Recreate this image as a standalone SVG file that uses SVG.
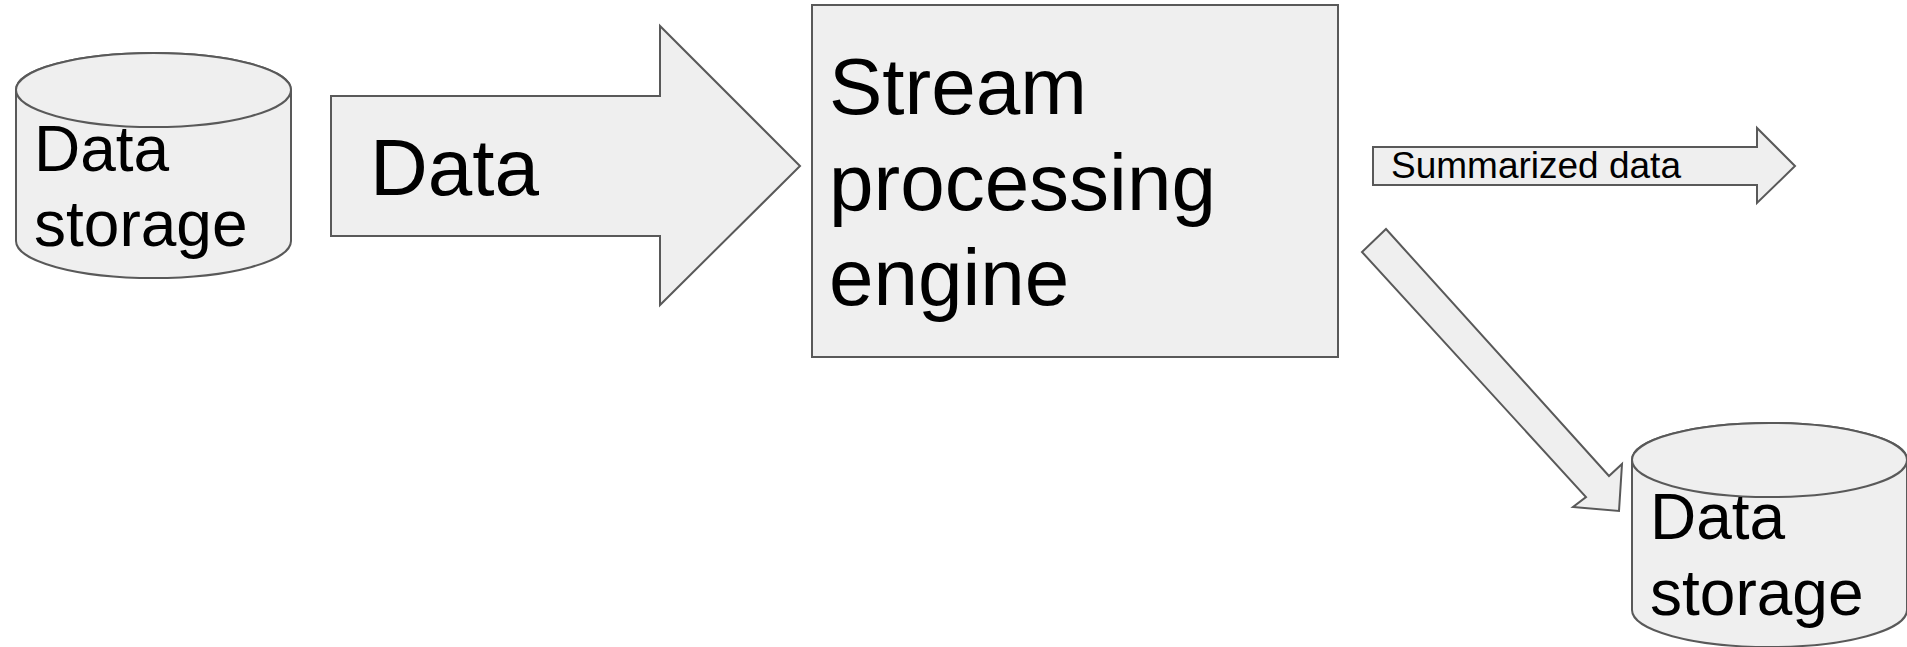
<svg xmlns="http://www.w3.org/2000/svg" width="1907" height="647" viewBox="0 0 1907 647">
<style>
.shape{fill:#efefef;stroke:#595959;stroke-width:2;stroke-linejoin:miter}
.t{font-family:"Liberation Sans",Arial,sans-serif;fill:#000}
</style>
<rect width="1907" height="647" fill="#ffffff"/>
<g id="storage1">
<path class="shape" d="M16,90 L16,241 A137.5,37 0 0 0 291,241 L291,90 A137.5,37 0 0 0 16,90 Z"/>
<ellipse class="shape" cx="153.5" cy="90" rx="137.5" ry="37"/>
<text class="t" x="34" y="171" font-size="64">Data</text>
<text class="t" x="34" y="246" font-size="64">storage</text>
</g>
<g id="engine">
<rect class="shape" x="812" y="5" width="526" height="352"/>
<text class="t" x="829" y="114" font-size="80">Stream</text>
<text class="t" x="829" y="210" font-size="80">processing</text>
<text class="t" x="829" y="305" font-size="80">engine</text>
</g>
<g id="storage2">
<path class="shape" d="M1632,460 L1632,610 A137.5,37 0 0 0 1907,610 L1907,460 A137.5,37 0 0 0 1632,460 Z"/>
<ellipse class="shape" cx="1769.5" cy="460" rx="137.5" ry="37"/>
<text class="t" x="1650" y="539" font-size="64">Data</text>
<text class="t" x="1650" y="615" font-size="64">storage</text>
</g>
<g id="connectors">
<g id="arrow-data">
<path class="shape" d="M331,96 L660,96 L660,26 L800,166 L660,305 L660,236 L331,236 Z"/>
<text class="t" x="370" y="195" font-size="80">Data</text>
</g>
<g id="arrow-summarized">
<path class="shape" d="M1373,147 L1757,147 L1757,128 L1795,166 L1757,203 L1757,185 L1373,185 Z"/>
<text class="t" x="1391" y="178" font-size="37">Summarized data</text>
</g>
<g id="arrow-store">
<path class="shape" d="M1386,229 L1609,476 L1622,464 L1619,511 L1573,507 L1586,497 L1362,252 Z"/>
</g>
</g>
</svg>
